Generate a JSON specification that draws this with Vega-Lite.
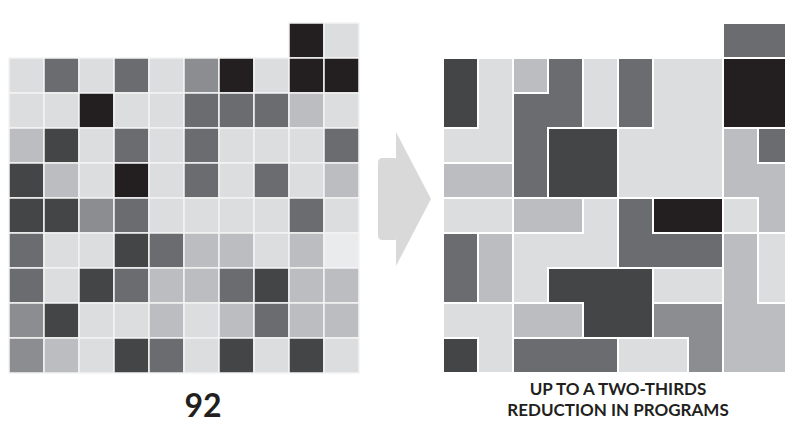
{
  "$schema": "https://vega.github.io/schema/vega-lite/v6.json",
  "background": "white",
  "padding": {"left": 8, "top": 22, "right": 0, "bottom": 0},
  "spacing": 5,
  "config": {
    "view": {"stroke": null},
    "title": {"font": "Lato", "fontWeight": "bold", "color": "#231f20", "orient": "bottom", "baseline": "top"}
  },
  "datasets": {
    "before": [
      {"row":0,"col":8,"shade":"B"},{"row":0,"col":9,"shade":"L"},
      {"row":1,"col":0,"shade":"L"},{"row":1,"col":1,"shade":"D"},{"row":1,"col":2,"shade":"L"},{"row":1,"col":3,"shade":"D"},{"row":1,"col":4,"shade":"L"},{"row":1,"col":5,"shade":"M"},{"row":1,"col":6,"shade":"B"},{"row":1,"col":7,"shade":"L"},{"row":1,"col":8,"shade":"B"},{"row":1,"col":9,"shade":"B"},
      {"row":2,"col":0,"shade":"L"},{"row":2,"col":1,"shade":"L"},{"row":2,"col":2,"shade":"B"},{"row":2,"col":3,"shade":"L"},{"row":2,"col":4,"shade":"L"},{"row":2,"col":5,"shade":"D"},{"row":2,"col":6,"shade":"D"},{"row":2,"col":7,"shade":"D"},{"row":2,"col":8,"shade":"S"},{"row":2,"col":9,"shade":"L"},
      {"row":3,"col":0,"shade":"S"},{"row":3,"col":1,"shade":"K"},{"row":3,"col":2,"shade":"L"},{"row":3,"col":3,"shade":"D"},{"row":3,"col":4,"shade":"L"},{"row":3,"col":5,"shade":"D"},{"row":3,"col":6,"shade":"L"},{"row":3,"col":7,"shade":"L"},{"row":3,"col":8,"shade":"L"},{"row":3,"col":9,"shade":"D"},
      {"row":4,"col":0,"shade":"K"},{"row":4,"col":1,"shade":"S"},{"row":4,"col":2,"shade":"L"},{"row":4,"col":3,"shade":"B"},{"row":4,"col":4,"shade":"L"},{"row":4,"col":5,"shade":"D"},{"row":4,"col":6,"shade":"L"},{"row":4,"col":7,"shade":"D"},{"row":4,"col":8,"shade":"L"},{"row":4,"col":9,"shade":"S"},
      {"row":5,"col":0,"shade":"K"},{"row":5,"col":1,"shade":"K"},{"row":5,"col":2,"shade":"M"},{"row":5,"col":3,"shade":"D"},{"row":5,"col":4,"shade":"L"},{"row":5,"col":5,"shade":"L"},{"row":5,"col":6,"shade":"L"},{"row":5,"col":7,"shade":"L"},{"row":5,"col":8,"shade":"D"},{"row":5,"col":9,"shade":"L"},
      {"row":6,"col":0,"shade":"D"},{"row":6,"col":1,"shade":"L"},{"row":6,"col":2,"shade":"L"},{"row":6,"col":3,"shade":"K"},{"row":6,"col":4,"shade":"D"},{"row":6,"col":5,"shade":"S"},{"row":6,"col":6,"shade":"S"},{"row":6,"col":7,"shade":"L"},{"row":6,"col":8,"shade":"S"},{"row":6,"col":9,"shade":"W"},
      {"row":7,"col":0,"shade":"D"},{"row":7,"col":1,"shade":"L"},{"row":7,"col":2,"shade":"K"},{"row":7,"col":3,"shade":"D"},{"row":7,"col":4,"shade":"S"},{"row":7,"col":5,"shade":"S"},{"row":7,"col":6,"shade":"D"},{"row":7,"col":7,"shade":"K"},{"row":7,"col":8,"shade":"S"},{"row":7,"col":9,"shade":"S"},
      {"row":8,"col":0,"shade":"M"},{"row":8,"col":1,"shade":"K"},{"row":8,"col":2,"shade":"L"},{"row":8,"col":3,"shade":"L"},{"row":8,"col":4,"shade":"S"},{"row":8,"col":5,"shade":"L"},{"row":8,"col":6,"shade":"S"},{"row":8,"col":7,"shade":"D"},{"row":8,"col":8,"shade":"S"},{"row":8,"col":9,"shade":"S"},
      {"row":9,"col":0,"shade":"M"},{"row":9,"col":1,"shade":"S"},{"row":9,"col":2,"shade":"L"},{"row":9,"col":3,"shade":"K"},{"row":9,"col":4,"shade":"D"},{"row":9,"col":5,"shade":"L"},{"row":9,"col":6,"shade":"K"},{"row":9,"col":7,"shade":"L"},{"row":9,"col":8,"shade":"K"},{"row":9,"col":9,"shade":"L"}
    ],
    "after": [
      {"piece":1,"c0":8,"c1":10,"r0":0,"r1":1,"shade":"D"},
      {"piece":2,"c0":0,"c1":1,"r0":1,"r1":3,"shade":"K"},
      {"piece":3,"c0":1,"c1":2,"r0":1,"r1":4,"shade":"L"},
      {"piece":3,"c0":0,"c1":2,"r0":3,"r1":4,"shade":"L"},
      {"piece":4,"c0":0,"c1":2,"r0":4,"r1":5,"shade":"S"},
      {"piece":5,"c0":0,"c1":2,"r0":5,"r1":6,"shade":"L"},
      {"piece":6,"c0":0,"c1":1,"r0":6,"r1":8,"shade":"D"},
      {"piece":7,"c0":1,"c1":2,"r0":6,"r1":8,"shade":"S"},
      {"piece":8,"c0":0,"c1":2,"r0":8,"r1":9,"shade":"L"},
      {"piece":8,"c0":1,"c1":2,"r0":8,"r1":10,"shade":"L"},
      {"piece":9,"c0":0,"c1":1,"r0":9,"r1":10,"shade":"K"},
      {"piece":10,"c0":2,"c1":3,"r0":1,"r1":2,"shade":"S"},
      {"piece":11,"c0":3,"c1":4,"r0":1,"r1":3,"shade":"D"},
      {"piece":11,"c0":2,"c1":4,"r0":2,"r1":3,"shade":"D"},
      {"piece":11,"c0":2,"c1":3,"r0":2,"r1":5,"shade":"D"},
      {"piece":12,"c0":4,"c1":5,"r0":1,"r1":3,"shade":"L"},
      {"piece":13,"c0":3,"c1":5,"r0":3,"r1":5,"shade":"K"},
      {"piece":14,"c0":2,"c1":4,"r0":5,"r1":6,"shade":"S"},
      {"piece":15,"c0":4,"c1":5,"r0":5,"r1":7,"shade":"L"},
      {"piece":15,"c0":2,"c1":5,"r0":6,"r1":7,"shade":"L"},
      {"piece":15,"c0":2,"c1":3,"r0":6,"r1":8,"shade":"L"},
      {"piece":16,"c0":3,"c1":6,"r0":7,"r1":8,"shade":"K"},
      {"piece":16,"c0":4,"c1":6,"r0":7,"r1":9,"shade":"K"},
      {"piece":17,"c0":2,"c1":4,"r0":8,"r1":9,"shade":"S"},
      {"piece":18,"c0":2,"c1":5,"r0":9,"r1":10,"shade":"D"},
      {"piece":19,"c0":5,"c1":6,"r0":1,"r1":3,"shade":"D"},
      {"piece":20,"c0":6,"c1":8,"r0":1,"r1":5,"shade":"L"},
      {"piece":20,"c0":5,"c1":8,"r0":3,"r1":5,"shade":"L"},
      {"piece":21,"c0":5,"c1":6,"r0":5,"r1":7,"shade":"D"},
      {"piece":21,"c0":5,"c1":8,"r0":6,"r1":7,"shade":"D"},
      {"piece":22,"c0":6,"c1":8,"r0":5,"r1":6,"shade":"B"},
      {"piece":23,"c0":6,"c1":8,"r0":7,"r1":8,"shade":"L"},
      {"piece":24,"c0":6,"c1":8,"r0":8,"r1":9,"shade":"M"},
      {"piece":24,"c0":7,"c1":8,"r0":8,"r1":10,"shade":"M"},
      {"piece":25,"c0":5,"c1":7,"r0":9,"r1":10,"shade":"L"},
      {"piece":26,"c0":8,"c1":10,"r0":1,"r1":3,"shade":"B"},
      {"piece":27,"c0":9,"c1":10,"r0":3,"r1":4,"shade":"D"},
      {"piece":28,"c0":8,"c1":9,"r0":3,"r1":5,"shade":"S"},
      {"piece":28,"c0":8,"c1":10,"r0":4,"r1":5,"shade":"S"},
      {"piece":28,"c0":9,"c1":10,"r0":4,"r1":6,"shade":"S"},
      {"piece":29,"c0":8,"c1":9,"r0":5,"r1":6,"shade":"L"},
      {"piece":30,"c0":8,"c1":9,"r0":6,"r1":10,"shade":"S"},
      {"piece":30,"c0":8,"c1":10,"r0":8,"r1":10,"shade":"S"},
      {"piece":31,"c0":9,"c1":10,"r0":6,"r1":8,"shade":"L"}
    ]
  },
  "hconcat": [
    {
      "width": 350,
      "height": 350,
      "title": {"text": "92", "fontSize": 32, "offset": 18, "dx": 19},
      "data": {"name": "before"},
      "mark": {"type": "rect", "stroke": "#f4f4f4", "strokeWidth": 1.5},
      "encoding": {
        "x": {"field": "col", "type": "ordinal", "axis": null, "scale": {"paddingInner": 0, "paddingOuter": 0}},
        "y": {"field": "row", "type": "ordinal", "axis": null, "scale": {"paddingInner": 0, "paddingOuter": 0}},
        "color": {"field": "shade", "type": "nominal", "legend": null,
          "scale": {"domain": ["L","S","M","D","K","B","W"], "range": ["#dcdddf","#bcbdc0","#8c8d90","#6b6c70","#444547","#231f20","#eaebec"]}}
      }
    },
    {
      "width": 73,
      "height": 350,
      "layer": [
        {
          "data": {"values": [{"ax0": 13, "ax1": 33, "ay0": 135, "ay1": 217}]},
          "mark": {"type": "rect", "color": "#d9d9d9", "cornerRadius": 4},
          "encoding": {
            "x": {"field": "ax0", "type": "quantitative", "axis": null, "scale": {"domain": [0, 73], "nice": false, "zero": false}},
            "x2": {"field": "ax1"},
            "y": {"field": "ay0", "type": "quantitative", "axis": null, "scale": {"domain": [0, 350], "reverse": true, "nice": false, "zero": false}},
            "y2": {"field": "ay1"}
          }
        },
        {
          "data": {"values": [{"ax0": 31, "ay0": 109, "ay1": 243}, {"ax0": 66, "ay0": 176, "ay1": 176}]},
          "mark": {"type": "area", "color": "#d9d9d9", "orient": "vertical"},
          "encoding": {
            "x": {"field": "ax0", "type": "quantitative"},
            "y": {"field": "ay0", "type": "quantitative"},
            "y2": {"field": "ay1"}
          }
        }
      ]
    },
    {
      "width": 350,
      "height": 350,
      "title": {"text": ["UP TO A TWO-THIRDS", "REDUCTION IN PROGRAMS"], "fontSize": 17, "lineHeight": 21, "offset": 9},
      "data": {"name": "after"},
      "mark": {"type": "rect", "xOffset": 1, "x2Offset": -1, "yOffset": 1, "y2Offset": -1},
      "encoding": {
        "x": {"field": "c0", "type": "quantitative", "axis": null, "scale": {"domain": [0, 10], "nice": false, "zero": false}},
        "x2": {"field": "c1"},
        "y": {"field": "r0", "type": "quantitative", "axis": null, "scale": {"domain": [0, 10], "reverse": true, "nice": false, "zero": false}},
        "y2": {"field": "r1"},
        "color": {"field": "shade", "type": "nominal", "legend": null}
      }
    }
  ]
}
